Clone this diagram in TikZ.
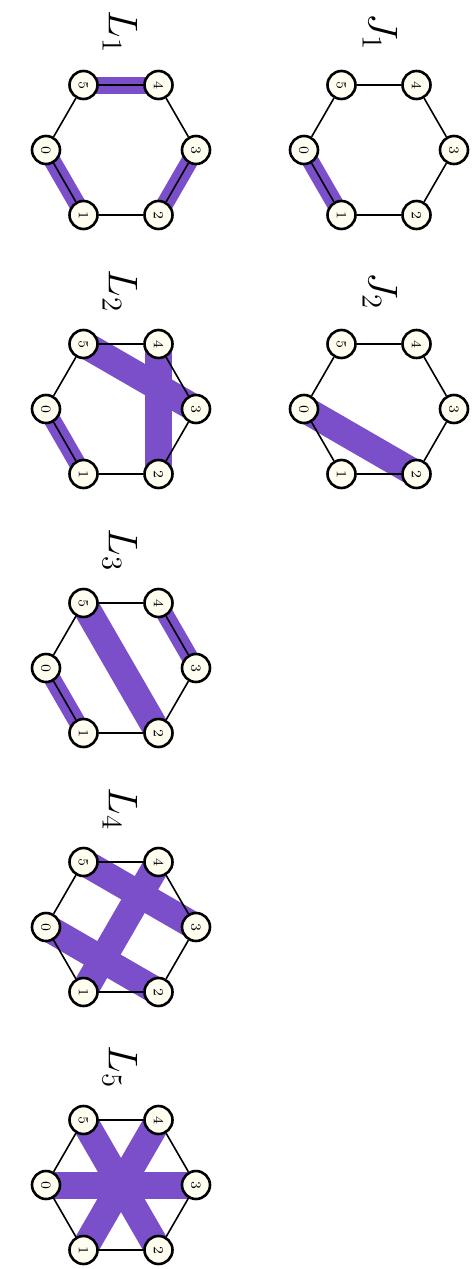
\documentclass[tikz,border=0pt]{standalone}
\usepackage{amsmath,amssymb}
\usepackage{xcolor}
\usepackage{tikz}
\usetikzlibrary{backgrounds}

\definecolor{pairviolet}{HTML}{7A4FC9}
\definecolor{vtxcream}{HTML}{FEFDF0}

% one hexagon ring: name, centre x, centre y
\newcommand{\hexring}[3]{%
  \node[vtx] (#1n0) at (#2-75,   #3)    {0};
  \node[vtx] (#1n1) at (#2-37.5, #3+65) {1};
  \node[vtx] (#1n2) at (#2+37.5, #3+65) {2};
  \node[vtx] (#1n3) at (#2+75,   #3)    {3};
  \node[vtx] (#1n4) at (#2+37.5, #3-65) {4};
  \node[vtx] (#1n5) at (#2-37.5, #3-65) {5};
  \draw[ring] (#1n0) -- (#1n1) -- (#1n2) -- (#1n3) -- (#1n4) -- (#1n5) -- (#1n0);
}

\begin{document}
\begin{tikzpicture}[
  x=0.5pt, y=-0.5pt,
  vtx/.style={draw, circle, line width=1.3pt, fill=vtxcream, inner sep=0pt,
              minimum size=14pt, font=\scriptsize, rotate=-90},
  ring/.style={line width=0.8pt},
  bond/.style={pairviolet, line width=8.5pt},
  chord/.style={pairviolet, line width=13.5pt},
  lbl/.style={font=\huge, rotate=-90}
]
\useasboundingbox (0,0) rectangle (474,1269);

% ─── J column ───
\hexring{j1}{379}{150}
\hexring{j2}{379}{409}
\node[lbl] (j1lbl) at (380, 32)  {$J_1$};
\node[lbl] (j2lbl) at (380, 291) {$J_2$};

% ─── L column ───
\hexring{l1}{121}{150}
\hexring{l2}{121}{409}
\hexring{l3}{121}{668}
\hexring{l4}{121}{927}
\hexring{l5}{121}{1185}
\node[lbl] (l1lbl) at (120, 32)   {$L_1$};
\node[lbl] (l2lbl) at (120, 291)  {$L_2$};
\node[lbl] (l3lbl) at (120, 550)  {$L_3$};
\node[lbl] (l4lbl) at (120, 809)  {$L_4$};
\node[lbl] (l5lbl) at (120, 1067) {$L_5$};

% ─── matched pairs (behind the rings) ───
\begin{scope}[on background layer]
  \draw[bond]  (j1n0.center) -- (j1n1.center);
  \draw[chord] (j2n0.center) -- (j2n2.center);

  \draw[bond]  (l1n0.center) -- (l1n1.center);
  \draw[bond]  (l1n2.center) -- (l1n3.center);
  \draw[bond]  (l1n4.center) -- (l1n5.center);

  \draw[bond]  (l2n0.center) -- (l2n1.center);
  \draw[chord] (l2n2.center) -- (l2n4.center);
  \draw[chord] (l2n3.center) -- (l2n5.center);

  \draw[bond]  (l3n0.center) -- (l3n1.center);
  \draw[bond]  (l3n3.center) -- (l3n4.center);
  \draw[chord] (l3n2.center) -- (l3n5.center);

  \draw[chord] (l4n0.center) -- (l4n2.center);
  \draw[chord] (l4n1.center) -- (l4n4.center);
  \draw[chord] (l4n3.center) -- (l4n5.center);

  \draw[chord] (l5n0.center) -- (l5n3.center);
  \draw[chord] (l5n1.center) -- (l5n4.center);
  \draw[chord] (l5n2.center) -- (l5n5.center);
\end{scope}

\end{tikzpicture}
\end{document}
